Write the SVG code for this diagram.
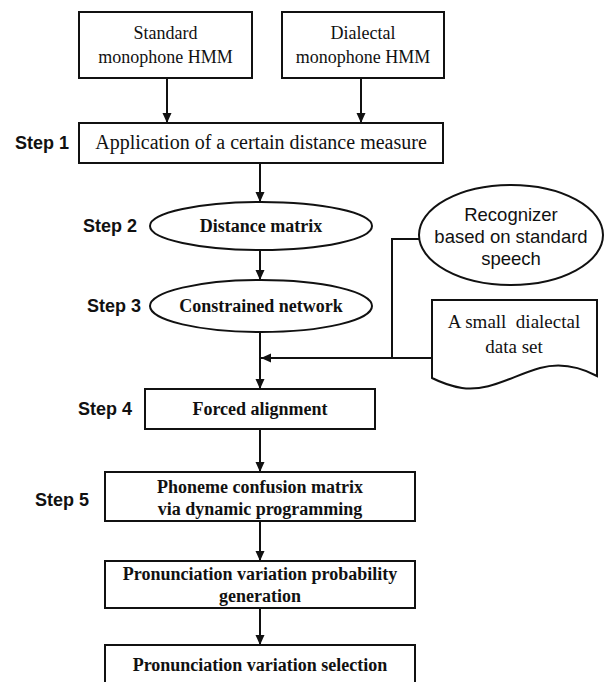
<svg xmlns="http://www.w3.org/2000/svg" width="604" height="682" viewBox="0 0 604 682">
  <defs>
    <style>
      .box { fill: #fff; stroke: #111; stroke-width: 2; }
      .line { fill: none; stroke: #111; stroke-width: 2; }
      .t { font-family: "Liberation Serif", "Times New Roman", serif; font-size: 18px; fill: #111; text-anchor: middle; }
      .tb { font-family: "Liberation Serif", "Times New Roman", serif; font-size: 18px; font-weight: bold; fill: #111; text-anchor: middle; }
      .sans { font-family: "Liberation Sans", Arial, sans-serif; font-size: 18.5px; fill: #111; text-anchor: middle; }
      .step { font-family: "Liberation Sans", Arial, sans-serif; font-size: 18px; font-weight: bold; fill: #111; }
    </style>
    <marker id="arrow" markerUnits="userSpaceOnUse" markerWidth="10" markerHeight="10" refX="10" refY="5" orient="auto">
      <path d="M0,0.5 L10,5 L0,9.5 z" fill="#111"/>
    </marker>
  </defs>
  <rect width="604" height="682" fill="#fff"/>

  <!-- step labels -->
  <g id="labels">
    <text class="step" x="15" y="149">Step 1</text>
    <text class="step" x="83" y="232">Step 2</text>
    <text class="step" x="87" y="312">Step 3</text>
    <text class="step" x="78" y="415">Step 4</text>
    <text class="step" x="35" y="506">Step 5</text>
  </g>

  <g id="connectors">
    <line class="line" x1="167" y1="78" x2="167" y2="123" marker-end="url(#arrow)"/>
    <line class="line" x1="361" y1="78" x2="361" y2="123" marker-end="url(#arrow)"/>
    <line class="line" x1="260" y1="163" x2="260" y2="202" marker-end="url(#arrow)"/>
    <line class="line" x1="260" y1="250" x2="260" y2="280" marker-end="url(#arrow)"/>
    <line class="line" x1="260" y1="332" x2="260" y2="389" marker-end="url(#arrow)"/>
    <path class="line" d="M420,239 H392 V358 H261" marker-end="url(#arrow)"/>
    <line class="line" x1="432" y1="358" x2="392" y2="358"/>
    <line class="line" x1="260" y1="429" x2="260" y2="472" marker-end="url(#arrow)"/>
    <line class="line" x1="260" y1="521" x2="260" y2="561" marker-end="url(#arrow)"/>
    <line class="line" x1="260" y1="608" x2="260" y2="645" marker-end="url(#arrow)"/>
  </g>

  <g id="standard-hmm">
    <rect class="box" x="79" y="12" width="173" height="66"/>
    <text class="t" x="165.5" y="39">Standard</text>
    <text class="t" x="165.5" y="63">monophone HMM</text>
  </g>

  <g id="dialectal-hmm">
    <rect class="box" x="282" y="12" width="162" height="66"/>
    <text class="t" x="363" y="39">Dialectal</text>
    <text class="t" x="363" y="63">monophone HMM</text>
  </g>

  <g id="distance-measure">
    <rect class="box" x="79" y="123" width="364" height="40"/>
    <text class="t" x="261" y="149" style="font-size:20px">Application of a certain distance measure</text>
  </g>

  <g id="distance-matrix">
    <ellipse class="box" cx="261" cy="226" rx="111" ry="24"/>
    <text class="tb" x="261" y="232">Distance matrix</text>
  </g>

  <g id="constrained-network">
    <ellipse class="box" cx="261" cy="306" rx="111" ry="26"/>
    <text class="tb" x="261" y="312">Constrained network</text>
  </g>

  <g id="recognizer">
    <ellipse class="box" cx="511" cy="235" rx="92" ry="50"/>
    <text class="sans" x="511" y="221">Recognizer</text>
    <text class="sans" x="511" y="243">based on standard</text>
    <text class="sans" x="511" y="265">speech</text>
  </g>

  <g id="dialectal-data">
    <!-- document shape with a wavy lower edge -->
    <path class="box" d="M432,300 H597 V376 C580,367 562,362 540,368 C512,376 488,392 462,388 C450,386 440,382 432,378 Z"/>
    <text class="t" x="514" y="328" style="font-size:19px" xml:space="preserve">A small  dialectal</text>
    <text class="t" x="514" y="353" style="font-size:19px">data set</text>
  </g>

  <g id="forced-alignment">
    <rect class="box" x="145" y="389" width="230" height="40"/>
    <text class="tb" x="260" y="415">Forced alignment</text>
  </g>

  <g id="confusion-matrix">
    <rect class="box" x="105" y="472" width="310" height="49"/>
    <text class="tb" x="260" y="493">Phoneme confusion matrix</text>
    <text class="tb" x="260" y="515">via dynamic programming</text>
  </g>

  <g id="probability-generation">
    <rect class="box" x="105" y="561" width="310" height="47"/>
    <text class="tb" x="260" y="580">Pronunciation variation probability</text>
    <text class="tb" x="260" y="602">generation</text>
  </g>

  <g id="variation-selection">
    <rect class="box" x="105" y="645" width="310" height="40"/>
    <text class="tb" x="260" y="671">Pronunciation variation selection</text>
  </g>
</svg>
